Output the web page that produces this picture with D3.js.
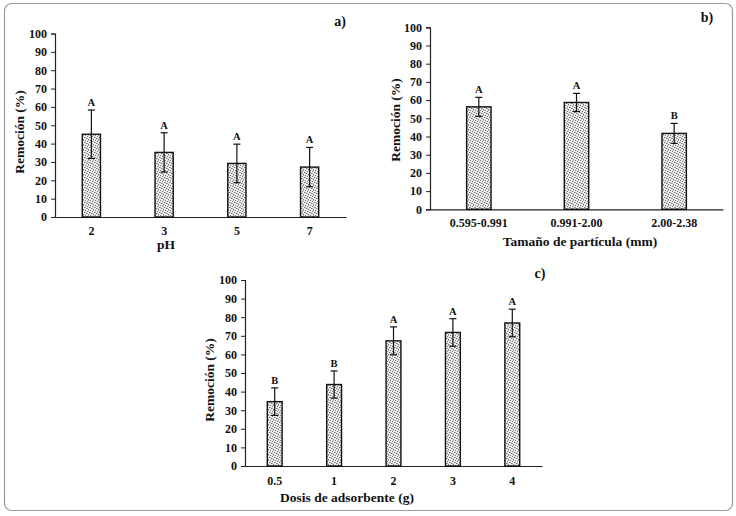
<!DOCTYPE html>
<html>
<head>
<meta charset="utf-8">
<script src="https://cdn.jsdelivr.net/npm/d3@7"></script>
<style>
  body { margin: 0; background: #fff; }
  svg text { font-family: "Liberation Serif", "Times New Roman", serif; font-weight: bold; fill: #111; }
</style>
</head>
<body>
<script>
// data: panel a) pH
var phCats = ["2", "3", "5", "7"];
var phVals = [45.1, 35.2, 29.2, 27.2];
var phErr = [13.2, 10.7, 10.5, 10.7];
var phLetters = ["A", "A", "A", "A"];

// data: panel b) particle size
var sizeCats = ["0.595-0.991", "0.991-2.00", "2.00-2.38"];
var sizeVals = [56.3, 58.7, 41.7];
var sizeErr = [5.2, 5.0, 5.5];
var sizeLetters = ["A", "A", "B"];

// data: panel c) adsorbent dose
var doseCats = ["0.5", "1", "2", "3", "4"];
var doseVals = [34.6, 43.8, 67.3, 71.8, 76.9];
var doseErr = [7.4, 7.3, 7.5, 7.4, 7.4];
var doseLetters = ["B", "B", "A", "A", "A"];

var yTicks = [0, 10, 20, 30, 40, 50, 60, 70, 80, 90, 100];

var width = 736, height = 516;

var svg = d3.select("body").append("svg")
    .attr("width", width)
    .attr("height", height);

// stipple fill for the bars (fine grey speckle)
var pat = svg.append("defs").append("pattern")
    .attr("id", "stipple")
    .attr("patternUnits", "userSpaceOnUse")
    .attr("width", 5)
    .attr("height", 5);
pat.append("rect").attr("width", 5).attr("height", 5).attr("fill", "#ececec");
[[0, 0], [2, 1], [4, 2], [1, 3], [3, 4], [3, 0], [0, 2], [2, 3]].forEach(function(p, i) {
  pat.append("rect").attr("x", p[0]).attr("y", p[1]).attr("width", 1).attr("height", 1)
      .attr("fill", i < 5 ? "#777" : "#aaa");
});

// outer rounded frame
svg.append("rect")
    .attr("x", 4.5).attr("y", 3.5)
    .attr("width", 728).attr("height", 507)
    .attr("rx", 7)
    .attr("fill", "none")
    .attr("stroke", "#9a9a9a")
    .attr("stroke-width", 1.2);

function drawPanel(opt) {
  var x = d3.scaleBand().domain(opt.cats).range([opt.x0, opt.x1]).padding(0);
  var y = d3.scaleLinear().domain([0, 100]).range([opt.y0, opt.y1]);
  var g = svg.append("g");
  var bw = x.bandwidth() * 0.25;

  // y axis
  var ya = g.append("g")
      .attr("transform", "translate(" + opt.x0 + ",0)")
      .call(d3.axisLeft(y).tickValues(yTicks).tickSize(4).tickPadding(4));
  ya.selectAll("text").style("font-size", "12px");

  // x axis
  var xa = g.append("g")
      .attr("transform", "translate(0," + opt.y0 + ")")
      .call(d3.axisBottom(x).tickSize(0).tickPadding(opt.xPad));
  xa.selectAll("text").style("font-size", "12px");
  g.selectAll(".domain").attr("stroke", "#222").attr("stroke-width", 1.2);
  g.selectAll(".tick line").attr("stroke", "#222");

  // bars
  g.selectAll("rect.bar")
      .data(opt.vals)
      .enter().append("rect")
      .attr("class", "bar")
      .attr("x", function(d, i) { return x(opt.cats[i]) + x.bandwidth() / 2 - bw / 2; })
      .attr("y", function(d) { return y(d); })
      .attr("width", bw)
      .attr("height", function(d) { return opt.y0 - y(d); })
      .attr("fill", "url(#stipple)")
      .attr("stroke", "#111")
      .attr("stroke-width", 1.4);

  // error bars
  var cap = 3.5;
  opt.vals.forEach(function(v, i) {
    var cx = x(opt.cats[i]) + x.bandwidth() / 2;
    var top = y(v + opt.err[i]), bot = y(v - opt.err[i]);
    g.append("line").attr("x1", cx).attr("x2", cx).attr("y1", top).attr("y2", bot)
        .attr("stroke", "#111").attr("stroke-width", 1.2);
    g.append("line").attr("x1", cx - cap).attr("x2", cx + cap).attr("y1", top).attr("y2", top)
        .attr("stroke", "#111").attr("stroke-width", 1.2);
    g.append("line").attr("x1", cx - cap).attr("x2", cx + cap).attr("y1", bot).attr("y2", bot)
        .attr("stroke", "#111").attr("stroke-width", 1.2);
    g.append("text")
        .attr("x", cx).attr("y", top - 4)
        .attr("text-anchor", "middle")
        .style("font-size", "10.5px")
        .text(opt.letters[i]);
  });

  // axis titles
  g.append("text")
      .attr("transform", "translate(" + opt.yTitleX + "," + opt.yTitleY + ") rotate(-90)")
      .attr("text-anchor", "middle")
      .style("font-size", "13.5px")
      .text("Remoción (%)");
  g.append("text")
      .attr("x", opt.xTitleX).attr("y", opt.xTitleY)
      .attr("text-anchor", "middle")
      .style("font-size", "13.5px")
      .text(opt.xTitle);

  // panel letter
  g.append("text")
      .attr("x", opt.tagX).attr("y", opt.tagY)
      .attr("text-anchor", "middle")
      .style("font-size", "14px")
      .text(opt.tag);
}

drawPanel({
  cats: phCats, vals: phVals, err: phErr, letters: phLetters,
  x0: 55, x1: 346, y0: 217, y1: 33.5, xPad: 9,
  yTitleX: 24, yTitleY: 132, xTitle: "pH", xTitleX: 166, xTitleY: 249,
  tag: "a)", tagX: 340, tagY: 26
});

drawPanel({
  cats: sizeCats, vals: sizeVals, err: sizeErr, letters: sizeLetters,
  x0: 430, x1: 723, y0: 209.3, y1: 27.3, xPad: 9,
  yTitleX: 400, yTitleY: 120, xTitle: "Tamaño de partícula (mm)", xTitleX: 580, xTitleY: 246,
  tag: "b)", tagX: 707, tagY: 22
});

drawPanel({
  cats: doseCats, vals: doseVals, err: doseErr, letters: doseLetters,
  x0: 245, x1: 542, y0: 466, y1: 280, xPad: 10,
  yTitleX: 214, yTitleY: 380, xTitle: "Dosis de adsorbente (g)", xTitleX: 347, xTitleY: 502,
  tag: "c)", tagX: 540, tagY: 278
});
</script>
</body>
</html>
